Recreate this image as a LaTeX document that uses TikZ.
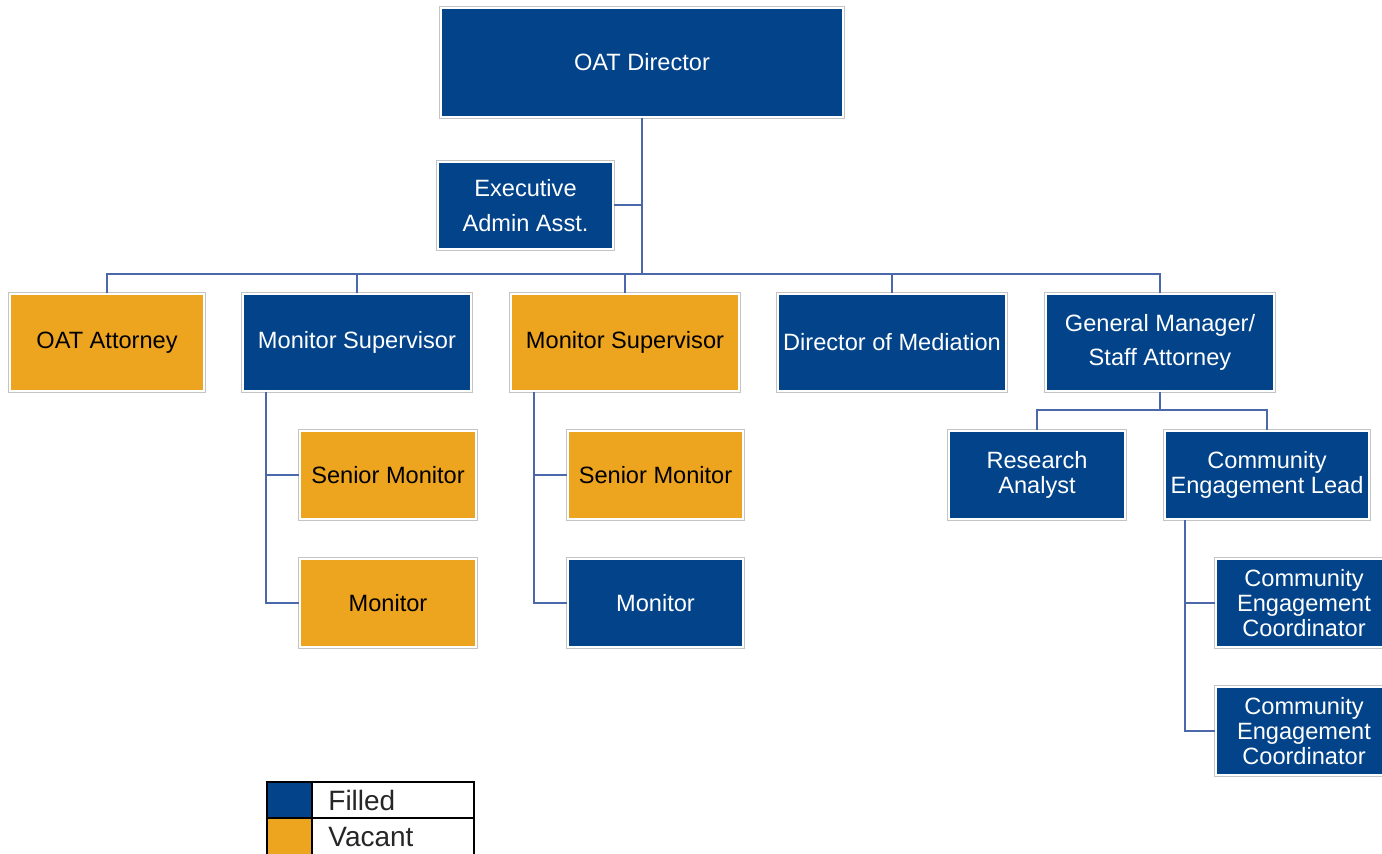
\documentclass[tikz,border=0pt]{standalone}
\usepackage{fontspec}
\setmainfont{Liberation Sans}
\definecolor{fillblue}{HTML}{02438A}
\definecolor{vacant}{HTML}{EDA41F}
\definecolor{linec}{HTML}{4A68AA}
\definecolor{edgegray}{HTML}{C4C4C4}
\begin{document}
\begin{tikzpicture}[x=0.5pt,y=-0.5pt,
  box/.style={rectangle, inner sep=1pt, align=center,
    preaction={draw=edgegray, line width=1.8pt},
    draw=white, line width=0.8pt,
    font=\fontsize{11.8}{12.6}\selectfont},
  filled/.style={box, fill=fillblue, text=white},
  vac/.style={box, fill=vacant, text=black},
  conn/.style={draw=linec, line width=1pt},
  legtext/.style={anchor=west, inner sep=0pt, font=\fontsize{14}{16}\selectfont, text=black!85}]
\useasboundingbox (0,0) rectangle (1382,854);

% level 0 and 1
\node[filled, minimum width=201pt, minimum height=54.5pt] (dir) at (642,62.5) {OAT Director};
\node[filled, minimum width=87.5pt, minimum height=43.5pt, font=\fontsize{11.8}{17.2}\selectfont] (exe) at (525.5,205.5) {Executive\\Admin Asst.};

% level 2
\node[vac, minimum width=97pt, minimum height=48.5pt] (att) at (107,342.5) {OAT Attorney};
\node[filled, minimum width=114pt, minimum height=48.5pt] (ms1) at (357,342.5) {Monitor Supervisor};
\node[vac, minimum width=114pt, minimum height=48.5pt] (ms2) at (625,342.5) {Monitor Supervisor};
\node[filled, minimum width=114pt, minimum height=48.5pt] (med) at (892,342.5) {Director of Mediation};
\node[filled, minimum width=114pt, minimum height=48.5pt, font=\fontsize{11.8}{17}\selectfont] (gm) at (1160,342.5) {General Manager/\\Staff Attorney};

% level 3
\node[vac, minimum width=88pt, minimum height=44pt] (sm1) at (388,475) {Senior Monitor};
\node[vac, minimum width=88pt, minimum height=44pt] (mo1) at (388,603) {Monitor};
\node[vac, minimum width=87.5pt, minimum height=44pt] (sm2) at (655.5,475) {Senior Monitor};
\node[filled, minimum width=87.5pt, minimum height=44pt] (mo2) at (655.5,603) {Monitor};
\node[filled, minimum width=88pt, minimum height=44pt] (ra) at (1037,475) {Research\\Analyst};
\node[filled, minimum width=102pt, minimum height=44pt] (cel) at (1267,475) {Community\\Engagement Lead};
\node[filled, minimum width=88pt, minimum height=44pt] (cc1) at (1304,603) {Community\\Engagement\\Coordinator};
\node[filled, minimum width=88pt, minimum height=44pt] (cc2) at (1304,731) {Community\\Engagement\\Coordinator};

% helper coordinates
\coordinate (bus) at (0,274);
\coordinate (gbus) at (0,410);
\coordinate (v1) at (266,0);
\coordinate (v2) at (534,0);
\coordinate (v3) at (1185,0);

% connectors
\begin{scope}[on background layer/.style={}]
\draw[conn] (dir.south) -- (dir.south |- bus);
\draw[conn] (exe.east) -- (exe.east -| dir.south);
\draw[conn] (att.north) -- (att.north |- bus) -- (gm.north |- bus) -- (gm.north);
\draw[conn] (ms1.north) -- (ms1.north |- bus);
\draw[conn] (ms2.north) -- (ms2.north |- bus);
\draw[conn] (med.north) -- (med.north |- bus);

\draw[conn] (ms1.south -| v1) |- (mo1.west);
\draw[conn] (v1 |- sm1.west) -- (sm1.west);
\draw[conn] (ms2.south -| v2) |- (mo2.west);
\draw[conn] (v2 |- sm2.west) -- (sm2.west);

\draw[conn] (gm.south) -- (gm.south |- gbus);
\draw[conn] (ra.north) -- (ra.north |- gbus) -- (cel.north |- gbus) -- (cel.north);
\draw[conn] (cel.south -| v3) |- (cc2.west);
\draw[conn] (v3 |- cc1.west) -- (cc1.west);
\end{scope}

% legend
\fill[fillblue] (267,782) rectangle (312,818);
\fill[vacant] (267,818) rectangle (312,856);
\draw[black, line width=1pt] (267,782) rectangle (474,856);
\draw[black, line width=1pt] (267,818) -- (474,818);
\draw[black, line width=1pt] (312,782) -- (312,856);
\node[legtext] (lf) at (328,800) {Filled};
\node[legtext] (lv) at (328,837) {Vacant};
\end{tikzpicture}
\end{document}
